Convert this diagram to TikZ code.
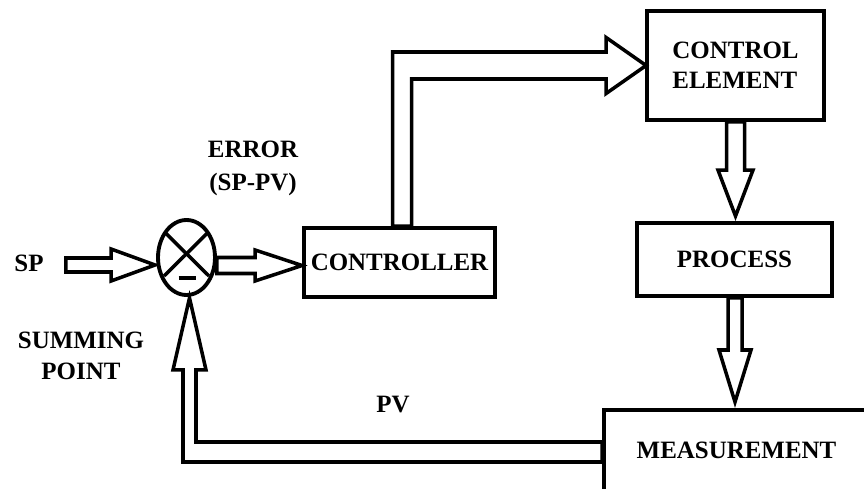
\documentclass[tikz,border=0pt]{standalone}
\usepackage{fontspec}
\setmainfont{Liberation Serif}
\usetikzlibrary{positioning,calc,shapes.geometric}
\tikzset{
  box/.style={draw, line width=2.2pt, inner sep=0pt, align=center, font=\bfseries\fontsize{14.2}{17}\selectfont},
  lbl/.style={inner sep=0pt, align=center, font=\bfseries\fontsize{14.2}{18.5}\selectfont},
  hollow/.style={draw, line width=2pt, line join=miter}
}
% block arrows: tail, tip, shaft half width, head half width, head length
\newcommand{\blockright}[5]{%
  \draw[hollow] ($(#1|-#2)+(0,-#3)$) -- ($(#2)+(-#5,-#3)$) -- ($(#2)+(-#5,-#4)$) -- (#2)
    -- ($(#2)+(-#5,#4)$) -- ($(#2)+(-#5,#3)$) -- ($(#1|-#2)+(0,#3)$) -- cycle;}
\newcommand{\blockdown}[5]{%
  \draw[hollow] ($(#2|-#1)+(-#3,0)$) -- ($(#2)+(-#3,-#5)$) -- ($(#2)+(-#4,-#5)$) -- (#2)
    -- ($(#2)+(#4,-#5)$) -- ($(#2)+(#3,-#5)$) -- ($(#2|-#1)+(#3,0)$) -- cycle;}

\begin{document}
\begin{tikzpicture}[x=0.02cm, y=-0.02cm]
  \fill[white] (0,0) rectangle (864,489);
  \useasboundingbox (0,0) rectangle (864,489);

  % blocks
  \node[box, ellipse, minimum width=1.14cm, minimum height=1.5cm] (sum) at (186.5,257.5) {};
  \node[box, minimum width=3.82cm, minimum height=1.38cm] (ctrl) at (399.5,262.5) {CONTROLLER};
  \node[box, minimum width=3.54cm, minimum height=2.18cm, align=left] (el) at (735.5,65.5) {CONTROL\\ELEMENT};
  \node[box, minimum width=3.9cm, minimum height=1.46cm] (proc) at (734.5,259.5) {PROCESS};
  \node[box, minimum width=6cm, minimum height=2cm, anchor=north west] (meas) at (602,408) {};
  \node[lbl] (meastext) at (736.5,450) {MEASUREMENT};

  % labels
  \node[lbl] (sp) at (29,263) {SP};
  \node[lbl] (err) at (253,168.5) {ERROR\\(SP-PV)};
  \node[lbl, font=\bfseries\fontsize{14.2}{18}\selectfont] (sumlbl) at (81,356) {SUMMING\\POINT};
  \node[lbl] (pv) at (393,405) {PV};

  % summing point marks
  \draw[line width=2pt] ($(sum.center)+(-21.5,-25)$) -- ($(sum.center)+(22.5,18.5)$);
  \draw[line width=2pt] ($(sum.center)+(21.5,-25)$) -- ($(sum.center)+(-22.5,18.5)$);
  \draw[line width=2.4pt] ($(sum.center)+(-8,20.5)$) -- ($(sum.center)+(9,20.5)$);

  % connector ends
  \coordinate (spout) at ($(sp.east)+(22,0)$);
  \coordinate (sumin) at ($(sum.west)+(-1,7.5)$);
  \coordinate (ctrlin) at ($(ctrl.west)+(0,3)$);
  \coordinate (ctrlup) at ($(ctrl.north)+(-7,0)$);
  \coordinate (elin) at ($(el.west)+(1,0)$);
  \coordinate (procin) at ($(proc.north)+(1,-5)$);
  \coordinate (measin) at ($(proc.south|-meas.north)+(0.5,-6)$);
  \coordinate (fbtip) at ($(sum.south)+(3,1)$);

  % connectors
  \blockright{spout}{sumin}{7}{16}{44}
  \blockright{sum.east}{ctrlin}{8}{15.5}{47}
  \draw[hollow] (ctrlup) |- ($(elin)+(-40,-13.5)$) -- ($(elin)+(-40,-28)$) -- (elin)
    -- ($(elin)+(-40,28)$) -- ($(elin)+(-40,13.5)$) -| ($(ctrlup)+(19,0)$) -- cycle;
  \blockdown{el.south}{procin}{9}{17.5}{46}
  \blockdown{proc.south}{measin}{7}{16}{52}
  \draw[hollow] ($(meas.north west)+(0,34)$) -| ($(fbtip)+(6.5,72)$) -- ($(fbtip)+(16.5,72)$) -- (fbtip)
    -- ($(fbtip)+(-16.5,72)$) -- ($(fbtip)+(-6.5,72)$) |- ($(meas.north west)+(0,54)$) -- cycle;
\end{tikzpicture}
\end{document}
